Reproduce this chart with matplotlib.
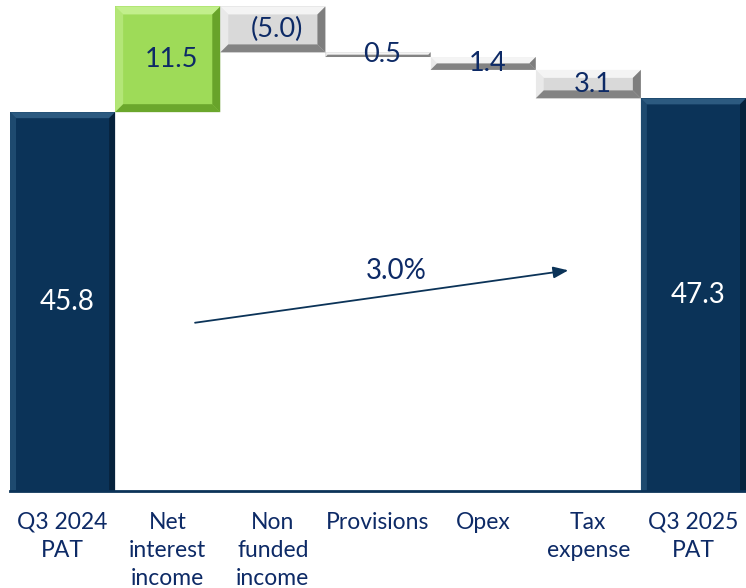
import numpy as np
import matplotlib.pyplot as plt
from matplotlib.patches import Polygon

categories = ["Q3 2024\nPAT", "Net\ninterest\nincome", "Non\nfunded\nincome",
              "Provisions", "Opex", "Tax\nexpense", "Q3 2025\nPAT"]
values = [45.8, 11.5, -5.0, -0.5, -1.4, -3.1, 47.3]
is_total = [True, False, False, False, False, False, True]
value_labels = ["45.8", "11.5", "(5.0)", "0.5", "1.4", "3.1", "47.3"]
growth_label = "3.0%"

NAVY_TXT = "#0d2a66"

# fill, light bevel (top/left), dark bevel (bottom/right)
styles = {
    "total": ("#0b3358", "#2c5a80", "#061f38"),
    "up": ("#9edb58", "#c2ef8c", "#5f9a22"),
    "down": ("#d9d9d9", "#f4f4f4", "#6e6e6e"),
}

plt.rcParams['font.family'] = ['Lato', 'DejaVu Sans']

fig = plt.figure(figsize=(7.46, 5.88), dpi=100)
ax = fig.add_axes([10 / 746, 1 - 491 / 588, 736 / 746, 491 / 588])
ax.set_xlim(-0.5, 6.5)
ax.set_ylim(4.6, 58.0)

# waterfall geometry
bottoms, heights = [], []
running = 0.0
for v, tot in zip(values, is_total):
    if tot:
        bottoms.append(0.0)
        heights.append(v)
        running = v
    else:
        lo = running + min(v, 0)
        bottoms.append(lo)
        heights.append(abs(v))
        running += v

x = np.arange(len(values))
fig.canvas.draw()
inv = ax.transData.inverted()
p0 = inv.transform((0, 0))
p1 = inv.transform((1, 1))
px_x = p1[0] - p0[0]
px_y = p1[1] - p0[1]

for i in range(len(values)):
    if is_total[i]:
        key = "total"
    elif values[i] > 0:
        key = "up"
    else:
        key = "down"
    fill, light, dark = styles[key]
    b, h = bottoms[i], heights[i]
    x0, x1 = i - 0.5, i + 0.5
    ax.bar(i, h, bottom=b, width=1.0, color=fill, edgecolor="none", zorder=2)
    hpx = h / px_y
    bev = min(8 if not is_total[i] else 6, hpx / 2.0)
    bx, by = bev * px_x, bev * px_y
    y0, y1 = b, b + h
    top = [(x0, y1), (x1, y1), (x1 - bx, y1 - by), (x0 + bx, y1 - by)]
    left = [(x0, y0), (x0, y1), (x0 + bx, y1 - by), (x0 + bx, y0 + by)]
    right = [(x1, y0), (x1, y1), (x1 - bx, y1 - by), (x1 - bx, y0 + by)]
    bottom = [(x0, y0), (x1, y0), (x1 - bx, y0 + by), (x0 + bx, y0 + by)]
    ax.add_patch(Polygon(top, closed=True, color=light, lw=0, zorder=3))
    ax.add_patch(Polygon(left, closed=True, color=light, lw=0, alpha=0.6, zorder=3))
    ax.add_patch(Polygon(bottom, closed=True, color=dark, lw=0, alpha=0.8, zorder=3))
    ax.add_patch(Polygon(right, closed=True, color=dark, lw=0, alpha=0.85, zorder=3))

    lo_vis = max(b, 4.6)
    ymid = (lo_vis + b + h) / 2.0
    col = "white" if is_total[i] else NAVY_TXT
    fs = 20 if is_total[i] else 19.5
    ax.text(i + 0.04, ymid, value_labels[i], ha="center", va="center",
            color=col, fontsize=fs, zorder=5)

# growth arrow
ax.annotate("", xy=(4.81, 28.6), xytext=(1.26, 22.9),
            arrowprops=dict(arrowstyle="-|>,head_length=0.9,head_width=0.35",
                            color="#0b3358", lw=1.3, shrinkA=0, shrinkB=0),
            zorder=6)
ax.text(3.17, 28.5, growth_label, ha="center", va="center",
        color=NAVY_TXT, fontsize=20, zorder=6)

ax.axhline(4.6, color="#0b3358", lw=2.0, zorder=4, clip_on=False)

ax.set_xticks(x)
ax.set_xticklabels(categories, fontsize=16.5, color=NAVY_TXT, linespacing=1.42)
ax.tick_params(axis="x", length=0, pad=15)
ax.set_yticks([])
for s in ax.spines.values():
    s.set_visible(False)

fig.savefig("out.png", dpi=100)
